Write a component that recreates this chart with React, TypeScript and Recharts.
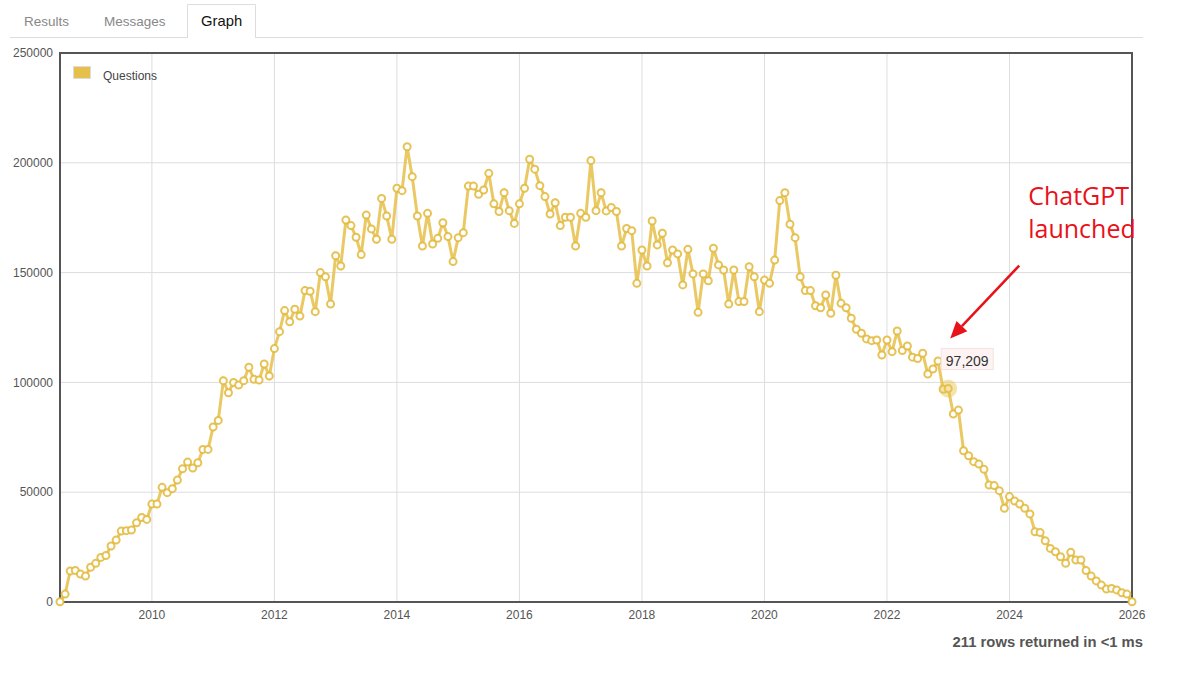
import {
  LineChart,
  Line,
  XAxis,
  YAxis,
  CartesianGrid,
  ReferenceArea,
  ReferenceDot,
} from "recharts";

// monthly question counts, July 2008 .. January 2026
const q2008 = [100, 3600, 14100, 14400, 12700, 11800]; // Jul–Dec
const q2009 = [15800, 17600, 20300, 21200, 25500, 28200, 32300, 32500, 32800, 36100, 38500, 37600];
const q2010 = [44600, 44600, 52200, 49800, 51600, 55500, 60700, 63700, 61000, 63400, 69500, 69500];
const q2011 = [79700, 82700, 100800, 95300, 100000, 98800, 100800, 106900, 101400, 101100, 108400, 102900];
const q2012 = [115400, 123100, 132700, 127600, 133300, 130200, 141800, 141500, 132200, 150000, 148100, 135700];
const q2013 = [157700, 153000, 173900, 171400, 166100, 158200, 176200, 169900, 165200, 183800, 175800, 165200];
const q2014 = [188400, 187300, 207300, 193700, 175800, 162100, 177000, 163000, 165600, 172700, 166400, 155000];
const q2015 = [165900, 168200, 189400, 189400, 185700, 187600, 195200, 181300, 177800, 186400, 178200, 172400];
const q2016 = [181300, 188400, 201600, 197100, 189600, 184600, 176700, 181800, 171400, 175200, 175200, 162100];
const q2017 = [177000, 175200, 201000, 178200, 186400, 178100, 179700, 177800, 162100, 170100, 169100, 145100];
const q2018 = [160300, 153000, 173500, 162600, 167900, 154500, 160300, 158500, 144400, 160600, 149400, 131900];
const q2019 = [149400, 146300, 161100, 153500, 151200, 135700, 151200, 136800, 136800, 152700, 148100, 132200];
const q2020 = [146600, 145100, 155700, 182800, 186400, 172000, 165900, 148100, 141800, 141800, 134900, 134000];
const q2021 = [139800, 131500, 148800, 136000, 134000, 129200, 124200, 122400, 119800, 119000, 119300, 112500];
const q2022 = [119300, 114000, 123400, 114500, 116600, 111500, 110900, 113300, 103800, 106100, 109800, 96900];
const q2023 = [97209, 85600, 87400, 68900, 66600, 63900, 62800, 60400, 53300, 53000, 50700, 42700];
const q2024 = [48000, 46000, 44600, 42700, 40100, 32000, 31600, 27900, 24400, 22900, 20600, 17600];
const q2025 = [22600, 19100, 19100, 14300, 11800, 9600, 7700, 5900, 6200, 5500, 4200, 3600];
const q2026 = [100]; // Jan

const xTicks = [2010, 2012, 2014, 2016, 2018, 2020, 2022, 2024, 2026];
const yTicks = [0, 50000, 100000, 150000, 200000, 250000];

const seriesName = "Questions";
const rowsNote = "211 rows returned in <1 ms";
const tabs = ["Results", "Messages", "Graph"];
const noteLines = ["ChatGPT", "launched"];

const years: [number, number, number[]][] = [
  [2008, 7, q2008],
  [2009, 1, q2009],
  [2010, 1, q2010],
  [2011, 1, q2011],
  [2012, 1, q2012],
  [2013, 1, q2013],
  [2014, 1, q2014],
  [2015, 1, q2015],
  [2016, 1, q2016],
  [2017, 1, q2017],
  [2018, 1, q2018],
  [2019, 1, q2019],
  [2020, 1, q2020],
  [2021, 1, q2021],
  [2022, 1, q2022],
  [2023, 1, q2023],
  [2024, 1, q2024],
  [2025, 1, q2025],
  [2026, 1, q2026],
];

const rows = years.flatMap(([y, m0, vals]) =>
  vals.map((v, k) => ({ t: y + (m0 - 1 + k) / 12, questions: v }))
);

const highlight = { t: 2023, value: q2023[0] };

const GOLD = "#e6c04a";
const RED = "#e8121a";
const FONT = "'Liberation Sans', Arial, sans-serif";

function HighlightShape(props: any) {
  const { cx, cy } = props;
  if (cx == null || cy == null) return null;
  // arrow from annotation toward the point
  const tail = { x: cx + 71, y: cy - 123 };
  const tip = { x: cx + 2, y: cy - 50 };
  const dx = tip.x - tail.x;
  const dy = tip.y - tail.y;
  const len = Math.hypot(dx, dy);
  const ux = dx / len;
  const uy = dy / len;
  const hl = 17;
  const hw = 7.5;
  const bx = tip.x - ux * hl;
  const by = tip.y - uy * hl;
  const head = `${tip.x},${tip.y} ${bx - uy * hw},${by + ux * hw} ${bx + uy * hw},${by - ux * hw}`;
  return (
    <g>
      <circle cx={cx} cy={cy} r={9} fill={GOLD} fillOpacity={0.45} />
      <rect x={cx - 7} y={cy - 40} width={52} height={21} fill="#fdf3f3" stroke="#f6e2e2" />
      <text x={cx + 19} y={cy - 23} textAnchor="middle" fontSize={14} fill="#333" fontFamily={FONT}>
        {highlight.value.toLocaleString("en-US")}
      </text>
      <line x1={tail.x} y1={tail.y} x2={bx} y2={by} stroke={RED} strokeWidth={2.5} />
      <polygon points={head} fill={RED} />
      {noteLines.map((s, i) => (
        <text
          key={s}
          x={cx + 80}
          y={cy - 184 + i * 33}
          fontSize={25}
          fill={RED}
          fontFamily="'Open Sans', sans-serif"
        >
          {s}
        </text>
      ))}
    </g>
  );
}

export default function App() {
  return (
    <div style={{ position: "absolute", left: 0, top: 0, width: 1200, height: 685, background: "#fff" }}>
      <svg width={1200} height={685} style={{ position: "absolute", left: 0, top: 0 }}>
        <line x1={10} y1={37.5} x2={1143} y2={37.5} stroke="#ddd" />
        <path d="M187.5 38 V4.5 H255.5 V38" fill="#fff" stroke="#ddd" />
        <line x1={188} y1={37.5} x2={255} y2={37.5} stroke="#fff" strokeWidth={1.5} />
        {tabs.map((tab, i) => (
          <text
            key={tab}
            x={[24, 104, 201][i]}
            y={26}
            fontSize={i === 2 ? 14.8 : 13.5}
            fill={i === 2 ? "#111" : "#888"}
            fontFamily={FONT}
          >
            {tab}
          </text>
        ))}
        <text x={1143} y={647} textAnchor="end" fontSize={14.8} fontWeight="bold" fill="#555" fontFamily={FONT}>
          {rowsNote}
        </text>
      </svg>
      <div style={{ position: "absolute", left: 0, top: 0 }}>
        <LineChart
          width={1200}
          height={685}
          data={rows}
          margin={{ top: 53, right: 68, left: 0, bottom: 53 }}
        >
          <CartesianGrid stroke="#ddd" strokeWidth={1} />
          <XAxis
            type="number"
            dataKey="t"
            domain={[2008.5, 2026]}
            ticks={xTicks}
            tickSize={0}
            tickMargin={8}
            axisLine={false}
            tick={{ fill: "#555", fontSize: 12, fontFamily: FONT }}
            height={30}
          />
          <YAxis
            type="number"
            domain={[0, 250000]}
            ticks={yTicks}
            width={60}
            tickSize={0}
            tickMargin={7}
            axisLine={false}
            tick={{ fill: "#555", fontSize: 12, fontFamily: FONT }}
            tickFormatter={(v: number) => String(v)}
          />
          <ReferenceArea
            x1={2008.5}
            x2={2026}
            y1={0}
            y2={250000}
            fill="none"
            fillOpacity={0}
            stroke="#555"
            strokeWidth={2}
          />
          <Line
            type="linear"
            dataKey="questions"
            name={seriesName}
            stroke={GOLD}
            strokeWidth={3}
            strokeOpacity={0.85}
            dot={{ r: 3.5, fill: "#fff", stroke: "#e2b93a", strokeWidth: 2 }}
            isAnimationActive={false}
          />
          <ReferenceDot x={highlight.t} y={highlight.value} r={9} shape={HighlightShape} />
        </LineChart>
      </div>
      <div
        style={{
          position: "absolute",
          left: 73,
          top: 66,
          display: "flex",
          alignItems: "flex-start",
          fontFamily: FONT,
        }}
      >
        <span
          style={{
            display: "inline-block",
            width: 16,
            height: 11,
            background: GOLD,
            border: "1px solid #ddd",
            marginRight: 12,
          }}
        />
        <span style={{ fontSize: 12, color: "#444", lineHeight: "14px", marginTop: 3 }}>{seriesName}</span>
      </div>
    </div>
  );
}
